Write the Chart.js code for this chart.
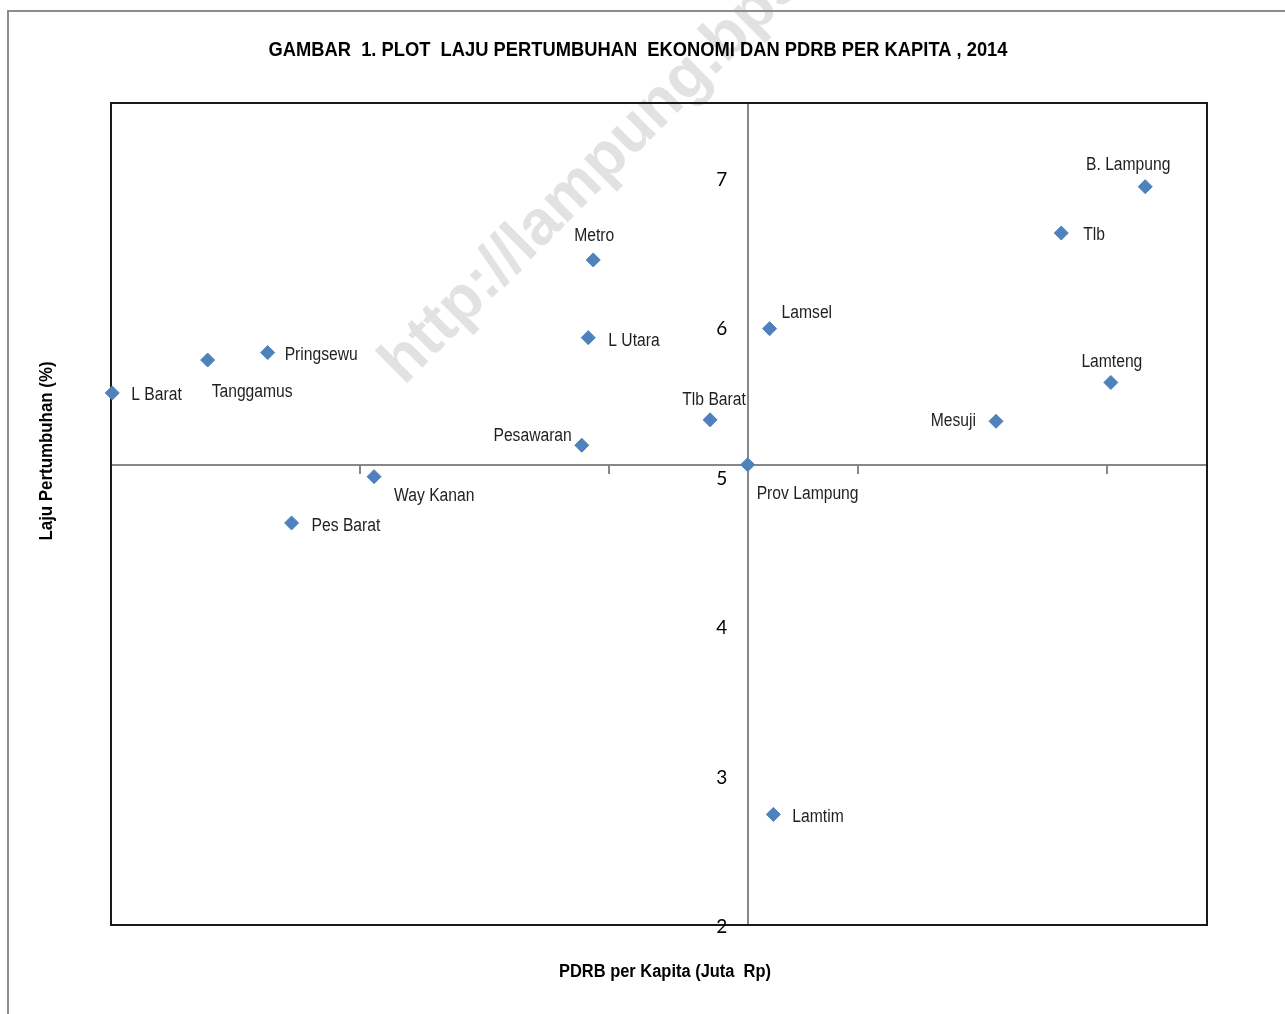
<!DOCTYPE html>
<html>
<head>
<meta charset="utf-8">
<title>Plot Laju Pertumbuhan Ekonomi dan PDRB per Kapita 2014</title>
<script src="https://cdn.jsdelivr.net/npm/chart.js@4.4.1/dist/chart.umd.min.js"></script>
<style>
  html, body { margin: 0; padding: 0; background: #fff; }
  #wrap { position: relative; width: 1285px; height: 1014px; }
</style>
</head>
<body>
<div id="wrap"><canvas id="plotChart"></canvas></div>
<script>
// kabupaten / kota
const regions = ["B. Lampung", "Tlb", "Metro", "Lamsel", "L Utara", "Pringsewu", "Tanggamus", "Lamteng",
    "L Barat", "Tlb Barat", "Mesuji", "Pesawaran", "Prov Lampung", "Way Kanan", "Pes Barat", "Lamtim"];
// PDRB per kapita (juta Rp)
const pdrbPerKapita = [41.52, 38.15, 19.36, 26.44, 19.16, 6.29, 3.88, 40.14,
    0.05, 24.05, 35.53, 18.90, 25.56, 10.56, 7.25, 26.59];
// laju pertumbuhan ekonomi (%)
const lajuPertumbuhan = [6.94, 6.63, 6.45, 5.99, 5.93, 5.83, 5.78, 5.63,
    5.56, 5.38, 5.37, 5.21, 5.08, 5.00, 4.69, 2.74];
const yTicks = [2, 3, 4, 5, 6, 7];
const xTicks = [0, 10, 20, 30, 40];

// the axes cross at the province point
const provIdx = regions.indexOf("Prov Lampung");

// label offsets from the point: [dx, dy, align]
const labelPlacement = {
    "B. Lampung": [-17, -22, "center"],
    "Tlb": [22, 2, "left"],
    "Metro": [1, -24, "center"],
    "Lamsel": [12, -16, "left"],
    "L Utara": [20, 3, "left"],
    "Pringsewu": [17, 2, "left"],
    "Tanggamus": [4, 32, "left"],
    "Lamteng": [1, -20, "center"],
    "L Barat": [19, 2, "left"],
    "Tlb Barat": [4, -20, "center"],
    "Mesuji": [-20, 0, "right"],
    "Pesawaran": [-10, -9, "right"],
    "Prov Lampung": [9, 29, "left"],
    "Way Kanan": [20, 19, "left"],
    "Pes Barat": [20, 3, "left"],
    "Lamtim": [19, 3, "left"]
};

const sans = '"Liberation Sans", Arial, sans-serif';
const axisGray = "#878787";

// Arial Narrow is not around, so squeeze Liberation Sans horizontally
function narrowText(ctx, text, x, y, align, sx, rotate) {
    ctx.save();
    ctx.translate(x, y);
    if (rotate) ctx.rotate(rotate);
    ctx.scale(sx, 1);
    ctx.textAlign = align;
    ctx.fillText(text, 0, 0);
    ctx.restore();
}

// squeeze to a given width
function fitText(ctx, text, x, y, width, rotate) {
    const w = ctx.measureText(text).width;
    narrowText(ctx, text, x, y, "center", width / w, rotate);
}

const decorations = {
    id: "decorations",
    beforeDraw(chart) {
        const ctx = chart.ctx;
        ctx.save();
        ctx.fillStyle = "#fff";
        ctx.fillRect(0, 0, chart.width, chart.height);
        // watermark
        ctx.translate(404, 386);
        ctx.rotate(-45 * Math.PI / 180);
        ctx.fillStyle = "#e2e2e2";
        ctx.font = "bold 63px " + sans;
        ctx.textBaseline = "alphabetic";
        ctx.fillText("http://lampung.bps.go.id", 0, 0);
        ctx.restore();
        // outer frame
        ctx.save();
        ctx.strokeStyle = "#8c8c8c";
        ctx.lineWidth = 2;
        ctx.strokeRect(8, 11, chart.width + 10, chart.height + 10);
        ctx.restore();
    },
    beforeDatasetsDraw(chart) {
        const a = chart.chartArea;
        const ctx = chart.ctx;
        ctx.save();
        ctx.strokeStyle = "#1a1a1a";
        ctx.lineWidth = 2;
        ctx.strokeRect(a.left, a.top, a.right - a.left, a.bottom - a.top);
        ctx.restore();
    },
    afterDatasetsDraw(chart) {
        const ctx = chart.ctx;
        const meta = chart.getDatasetMeta(0);
        ctx.save();
        ctx.font = "18px " + sans;
        ctx.fillStyle = "#1f1f1f";
        ctx.textBaseline = "middle";
        meta.data.forEach(function (pt, i) {
            const p = labelPlacement[regions[i]] || [10, 0, "left"];
            narrowText(ctx, regions[i], pt.x + p[0], pt.y + p[1], p[2], 0.87);
        });
        ctx.restore();
    },
    afterDraw(chart) {
        const ctx = chart.ctx;
        const yScale = chart.scales.y;
        const axisX = chart.scales.x.getPixelForValue(pdrbPerKapita[provIdx]);
        ctx.save();
        // y tick labels, left of the crossing axis
        ctx.fillStyle = "#000";
        ctx.textAlign = "center";
        ctx.textBaseline = "middle";
        ctx.font = "19px Lato, 'Open Sans', sans-serif";
        yScale.ticks.forEach(function (t) {
            ctx.fillText(String(t.value), axisX - 26, yScale.getPixelForValue(t.value) + 2);
        });
        ctx.font = "bold 20px " + sans;
        fitText(ctx, "GAMBAR  1. PLOT  LAJU PERTUMBUHAN  EKONOMI DAN PDRB PER KAPITA , 2014", 638, 50, 739);
        ctx.font = "bold 18px " + sans;
        fitText(ctx, "PDRB per Kapita (Juta  Rp)", 665, 972, 212);
        fitText(ctx, "Laju Pertumbuhan (%)", 47, 451, 179, -Math.PI / 2);
        ctx.restore();
    }
};

const ctx = document.getElementById("plotChart").getContext("2d");
const plotChart = new Chart(ctx, {
    type: "scatter",
    data: {
        datasets: [{
            label: "Kabupaten/Kota",
            data: pdrbPerKapita.map((x, i) => ({ x: x, y: lajuPertumbuhan[i] })),
            pointStyle: "rectRot",
            pointRadius: 7,
            pointHoverRadius: 7,
            backgroundColor: "#4F81BD",
            borderColor: "#4F81BD",
            borderWidth: 1,
            clip: false
        }]
    },
    options: {
        responsive: true,
        maintainAspectRatio: false,
        animation: false,
        events: [],
        layout: { padding: { left: 111, top: 103, right: 78, bottom: 89 } },
        plugins: {
            legend: { display: false },
            tooltip: { enabled: false }
        },
        scales: {
            x: {
                type: "linear",
                min: 0,
                max: 44,
                position: { y: lajuPertumbuhan[provIdx] },
                afterBuildTicks: s => { s.ticks = xTicks.map(v => ({ value: v })); },
                grid: { drawOnChartArea: false, drawTicks: true, tickLength: 8, color: axisGray, lineWidth: 2 },
                border: { display: true, color: axisGray, width: 2 },
                ticks: { display: false }
            },
            y: {
                type: "linear",
                min: 2,
                max: 7.5,
                position: { x: pdrbPerKapita[provIdx] },
                afterBuildTicks: s => { s.ticks = yTicks.map(v => ({ value: v })); },
                grid: { display: false, drawTicks: false },
                border: { display: true, color: axisGray, width: 2 },
                ticks: { display: false }
            }
        }
    },
    plugins: [decorations]
});
</script>
</body>
</html>
